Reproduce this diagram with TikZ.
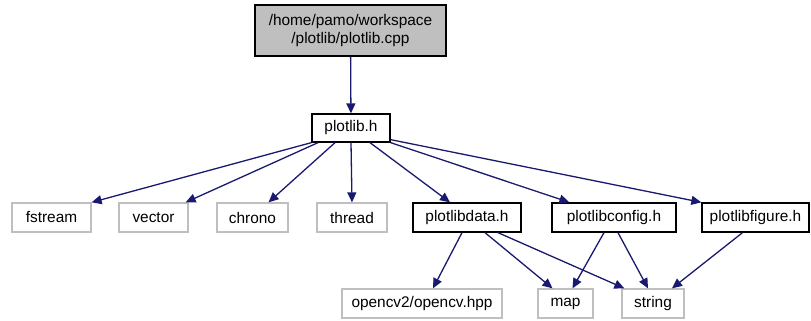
\documentclass[tikz,border=0pt]{standalone}
\usepackage{fontspec}
\setmainfont{Liberation Sans}
\usetikzlibrary{arrows.meta}
\definecolor{edgeblue}{HTML}{191970}
\definecolor{boxgray}{HTML}{BFBFBF}
\tikzset{
  filebox/.style={draw=black, line width=1.3pt, rectangle, inner sep=0pt,
    minimum height=29pt, font=\fontsize{15.4}{18}\selectfont, text=black},
  sysbox/.style={filebox, draw=boxgray},
  rootbox/.style={filebox, fill=boxgray, align=center},
  dep/.style={draw=edgeblue, line width=1.3pt,
    -{Triangle[length=10pt,width=9pt,fill=edgeblue]}},
}
\begin{document}
\begin{tikzpicture}[x=1pt, y=-1pt]
  \useasboundingbox (0,0) rectangle (811,321);
  % root file
  \node[rootbox, minimum width=191pt, minimum height=51pt] (root) at (350.5,30.5)
    {/home/pamo/workspace\\/plotlib/plotlib.cpp};
  % header included by the root
  \node[filebox, minimum width=78pt, minimum height=28pt] (plotlib) at (351,128) {plotlib.h};
  % second level
  \node[sysbox, minimum width=79pt] (fstream) at (51.5,217.5) {fstream};
  \node[sysbox, minimum width=69pt] (vector) at (153.5,217.5) {vector};
  \node[sysbox, minimum width=71pt] (chrono) at (252.5,217.5) {chrono};
  \node[sysbox, minimum width=70pt] (thread) at (352,217.5) {thread};
  \node[filebox, minimum width=108pt] (data) at (467,217.5) {plotlibdata.h};
  \node[filebox, minimum width=124pt] (config) at (614,217.5) {plotlibconfig.h};
  \node[filebox, minimum width=107pt] (figure) at (755.5,217.5) {plotlibfigure.h};
  % third level
  \node[sysbox, minimum width=160pt] (opencv) at (422,303.5) {opencv2/opencv.hpp};
  \node[sysbox, minimum width=55pt] (map) at (565.5,303.5) {map};
  \node[sysbox, minimum width=62pt] (string) at (653,303.5) {string};

  % include edges
  \draw[dep] (root) -- (plotlib);
  \draw[dep] (plotlib.south west) -- (fstream.north east);
  \draw[dep] ([xshift=-33pt]plotlib.south) -- ([xshift=-3pt]vector.north east);
  \draw[dep] ([xshift=-16pt]plotlib.south) -- ([xshift=16pt]chrono.north);
  \draw[dep] (plotlib.south) -- (thread.north);
  \draw[dep] ([xshift=19pt]plotlib.south) -- ([xshift=-17pt]data.north);
  \draw[dep] (plotlib.south east) -- ([xshift=18pt]config.north west);
  \draw[dep] ([yshift=3pt]plotlib.south east) -- (figure.north west);

  \draw[dep] ([xshift=-5pt]data.south) -- ([xshift=11pt]opencv.north);
  \draw[dep] ([xshift=18pt]data.south) -- ([xshift=-13pt]map.north);
  \draw[dep] ([xshift=31pt]data.south) -- ([xshift=3pt]string.north west);
  \draw[dep] ([xshift=-10pt]config.south) -- ([xshift=7pt]map.north);
  \draw[dep] ([xshift=4pt]config.south) -- ([xshift=-5pt]string.north);
  \draw[dep] ([xshift=-13pt]figure.south) -- ([xshift=19pt]string.north);
\end{tikzpicture}
\end{document}
